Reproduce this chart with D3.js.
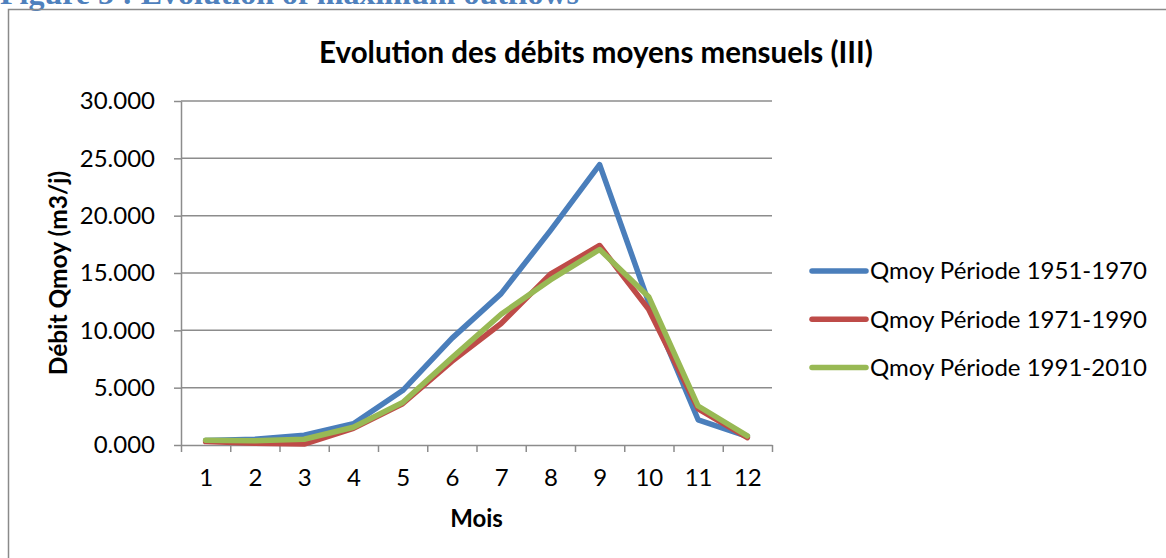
<!DOCTYPE html>
<html>
<head>
<meta charset="utf-8">
<script src="https://cdn.jsdelivr.net/npm/d3@7"></script>
<style>
  html, body { margin: 0; padding: 0; background: #fff; overflow: hidden; }
  svg { display: block; }
</style>
</head>
<body>
<svg id="chart" width="1166" height="558"></svg>
<script>
// ---- data ----
const months = [1, 2, 3, 4, 5, 6, 7, 8, 9, 10, 11, 12];
const seriesNames = ["Qmoy Période 1951-1970", "Qmoy Période 1971-1990", "Qmoy Période 1991-2010"];
const q1951_1970 = [0.40, 0.50, 0.85, 1.85, 4.75, 9.30, 13.20, 18.70, 24.45, 12.40, 2.20, 0.75];
const q1971_1990 = [0.30, 0.15, 0.08, 1.45, 3.60, 7.30, 10.60, 14.90, 17.40, 11.80, 3.15, 0.65];
const q1991_2010 = [0.42, 0.37, 0.50, 1.55, 3.70, 7.60, 11.40, 14.40, 17.05, 12.90, 3.40, 0.80];
const seriesColors = ["#4A7EBB", "#BE4B48", "#98B954"];
const yTickValues = [0, 5, 10, 15, 20, 25, 30];
const yTickLabels = ["0.000", "5.000", "10.000", "15.000", "20.000", "25.000", "30.000"];
const chartTitle = "Evolution des débits moyens mensuels (III)";
const xTitle = "Mois";
const yTitle = "Débit Qmoy (m3/j)";
const caption = "Figure 5 : Evolution of maximum outflows";

const series = [q1951_1970, q1971_1990, q1991_2010];

const svg = d3.select("#chart");
const FONT = "Lato, 'Open Sans', sans-serif";

// caption (cut at top, as in the reference)
svg.append("text")
  .attr("x", 0).attr("y", 4)
  .attr("font-family", "'Liberation Serif', serif")
  .attr("font-weight", "bold")
  .attr("font-size", 32)
  .attr("fill", "#4F81BD")
  .text(caption);

// chart border
svg.append("rect")
  .attr("x", 8.5).attr("y", 9.5)
  .attr("width", 1200).attr("height", 600)
  .attr("fill", "none")
  .attr("stroke", "#8a8a8a")
  .attr("stroke-width", 1.5);

const plot = { left: 181, right: 772, top: 101, bottom: 445 };

const x = d3.scaleLinear().domain([0.5, 12.5]).range([plot.left, plot.right]);
const y = d3.scaleLinear().domain([0, 30]).range([plot.bottom, plot.top]);

// gridlines
svg.append("g")
  .selectAll("line")
  .data(yTickValues.filter(v => v > 0))
  .join("line")
  .attr("x1", plot.left).attr("x2", plot.right)
  .attr("y1", d => y(d)).attr("y2", d => y(d))
  .attr("stroke", "#8c8c8c")
  .attr("stroke-width", 1.5);

// y axis
const yAxis = d3.axisLeft(y)
  .tickValues(yTickValues)
  .tickFormat((d, i) => yTickLabels[i])
  .tickSize(7)
  .tickSizeOuter(0)
  .tickPadding(19);
const gy = svg.append("g").attr("transform", `translate(${plot.left},0)`).call(yAxis);
gy.select(".domain").attr("stroke", "#8c8c8c").attr("stroke-width", 1.5);
gy.selectAll(".tick line").attr("stroke", "#8c8c8c").attr("stroke-width", 1.5);
gy.selectAll(".tick text")
  .attr("font-family", FONT).attr("font-size", 24).attr("fill", "#000");

// x axis tick marks (band edges)
const edgeTicks = d3.range(0, 13).map(i => i + 0.5);
const xAxisTicks = d3.axisBottom(x)
  .tickValues(edgeTicks)
  .tickFormat("")
  .tickSize(7)
  .tickSizeOuter(0);
const gx = svg.append("g").attr("transform", `translate(0,${plot.bottom})`).call(xAxisTicks);
gx.select(".domain").attr("stroke", "#8c8c8c").attr("stroke-width", 1.5);
gx.selectAll(".tick line").attr("stroke", "#8c8c8c").attr("stroke-width", 1.5);

// x axis labels
const xAxisLabels = d3.axisBottom(x).tickValues(months).tickFormat(d3.format("d")).tickSize(0).tickPadding(24);
const gxl = svg.append("g").attr("transform", `translate(0,${plot.bottom})`).call(xAxisLabels);
gxl.select(".domain").remove();
gxl.selectAll(".tick text").attr("font-family", FONT).attr("font-size", 24).attr("fill", "#000");

// lines
const line = d3.line().x((d, i) => x(months[i])).y(d => y(d));
series.forEach((s, k) => {
  svg.append("path")
    .datum(s)
    .attr("d", line)
    .attr("fill", "none")
    .attr("stroke", seriesColors[k])
    .attr("stroke-width", 5.5)
    .attr("stroke-linejoin", "round")
    .attr("stroke-linecap", "round");
});

// title
svg.append("text")
  .attr("x", 596).attr("y", 63)
  .attr("text-anchor", "middle")
  .attr("font-family", FONT).attr("font-weight", "bold").attr("font-size", 29.5)
  .attr("fill", "#000")
  .text(chartTitle);

// axis titles
svg.append("text")
  .attr("x", (plot.left + plot.right) / 2).attr("y", 527)
  .attr("text-anchor", "middle")
  .attr("font-family", FONT).attr("font-weight", "bold").attr("font-size", 24)
  .text(xTitle);

svg.append("text")
  .attr("transform", `translate(67,${(plot.top + plot.bottom) / 2}) rotate(-90)`)
  .attr("text-anchor", "middle")
  .attr("font-family", FONT).attr("font-weight", "bold").attr("font-size", 24.5)
  .text(yTitle);

// legend
const legend = svg.append("g");
seriesNames.forEach((name, k) => {
  const ly = 271 + k * 48.3;
  legend.append("line")
    .attr("x1", 812).attr("x2", 866)
    .attr("y1", ly).attr("y2", ly)
    .attr("stroke", seriesColors[k])
    .attr("stroke-width", 5.5)
    .attr("stroke-linecap", "round");
  legend.append("text")
    .attr("x", 870).attr("y", ly)
    .attr("dy", "0.35em")
    .attr("font-family", FONT).attr("font-size", 24)
    .attr("fill", "#000")
    .text(name);
});
</script>
</body>
</html>
